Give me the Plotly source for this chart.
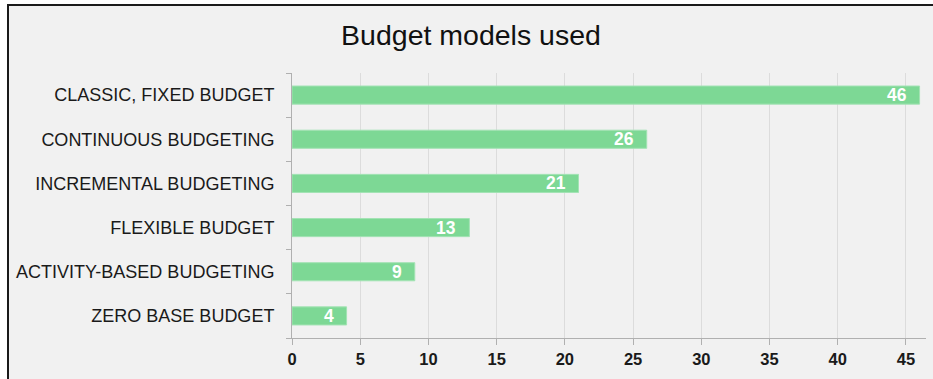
import plotly.graph_objects as go

categories = ["CLASSIC, FIXED BUDGET", "CONTINUOUS BUDGETING", "INCREMENTAL BUDGETING",
              "FLEXIBLE BUDGET", "ACTIVITY-BASED BUDGETING", "ZERO BASE BUDGET"]
values = [46, 26, 21, 13, 9, 4]
x_ticks = [0, 5, 10, 15, 20, 25, 30, 35, 40, 45]

W, H = 933, 379
ml, mr, mt, mb = 292, 7, 73, 41
pw = W - ml - mr
ph = H - mt - mb

def px_to_paper_x(px):
    return (px - ml) / pw

def px_to_paper_y(py):
    return (H - mb - py) / ph

fig = go.Figure()
fig.add_trace(go.Bar(
    y=categories, x=values, orientation="h",
    marker=dict(color="#7dd895", line=dict(color="#a3e3b4", width=1)),
    width=0.41,
    hoverinfo="x+y",
))

for c, v in zip(categories, values):
    fig.add_annotation(x=v, y=c, xref="x", yref="y", text=str(v), showarrow=False,
                       xanchor="right", yanchor="middle", xshift=-11, yshift=0,
                       font=dict(color="white", size=17.5, family="Liberation Sans", weight="bold"))

fig.add_shape(type="rect", xref="paper", yref="paper",
              x0=px_to_paper_x(8), x1=px_to_paper_x(960),
              y0=px_to_paper_y(400), y1=px_to_paper_y(5),
              fillcolor="#f1f1f1", line=dict(color="#1a1a1a", width=2), layer="below")

fig.update_layout(
    width=W, height=H,
    margin=dict(l=ml, r=mr, t=mt, b=mb, autoexpand=False),
    paper_bgcolor="white", plot_bgcolor="rgba(0,0,0,0)",
    showlegend=False,
    title=dict(text="Budget models used", x=471 / W, xanchor="center",
               y=1 - 35 / H, yanchor="middle",
               font=dict(family="Liberation Sans", size=28.5, color="#111")),
    xaxis=dict(range=[0, 46.47], tickvals=x_ticks, showgrid=True, gridcolor="#dcdcdc", gridwidth=1,
               zeroline=False, showline=True, linecolor="#b0b0b0", linewidth=1,
               ticks="outside", ticklen=6, tickcolor="#b0b0b0",
               tickfont=dict(family="Liberation Sans", size=16.5, color="#1a1a1a", weight="bold")),
    yaxis=dict(categoryorder="array", categoryarray=categories[::-1],
               showline=True, linecolor="#b0b0b0", linewidth=1,
               ticks="outside", ticklen=5, tickcolor="#b0b0b0", tickson="boundaries",
               ticklabelstandoff=13,
               tickfont=dict(family="Liberation Sans", size=18, color="#1a1a1a")),
)

fig.write_html("out.html", config={"displayModeBar": False},
               post_script="document.body.style.margin='0px';")
